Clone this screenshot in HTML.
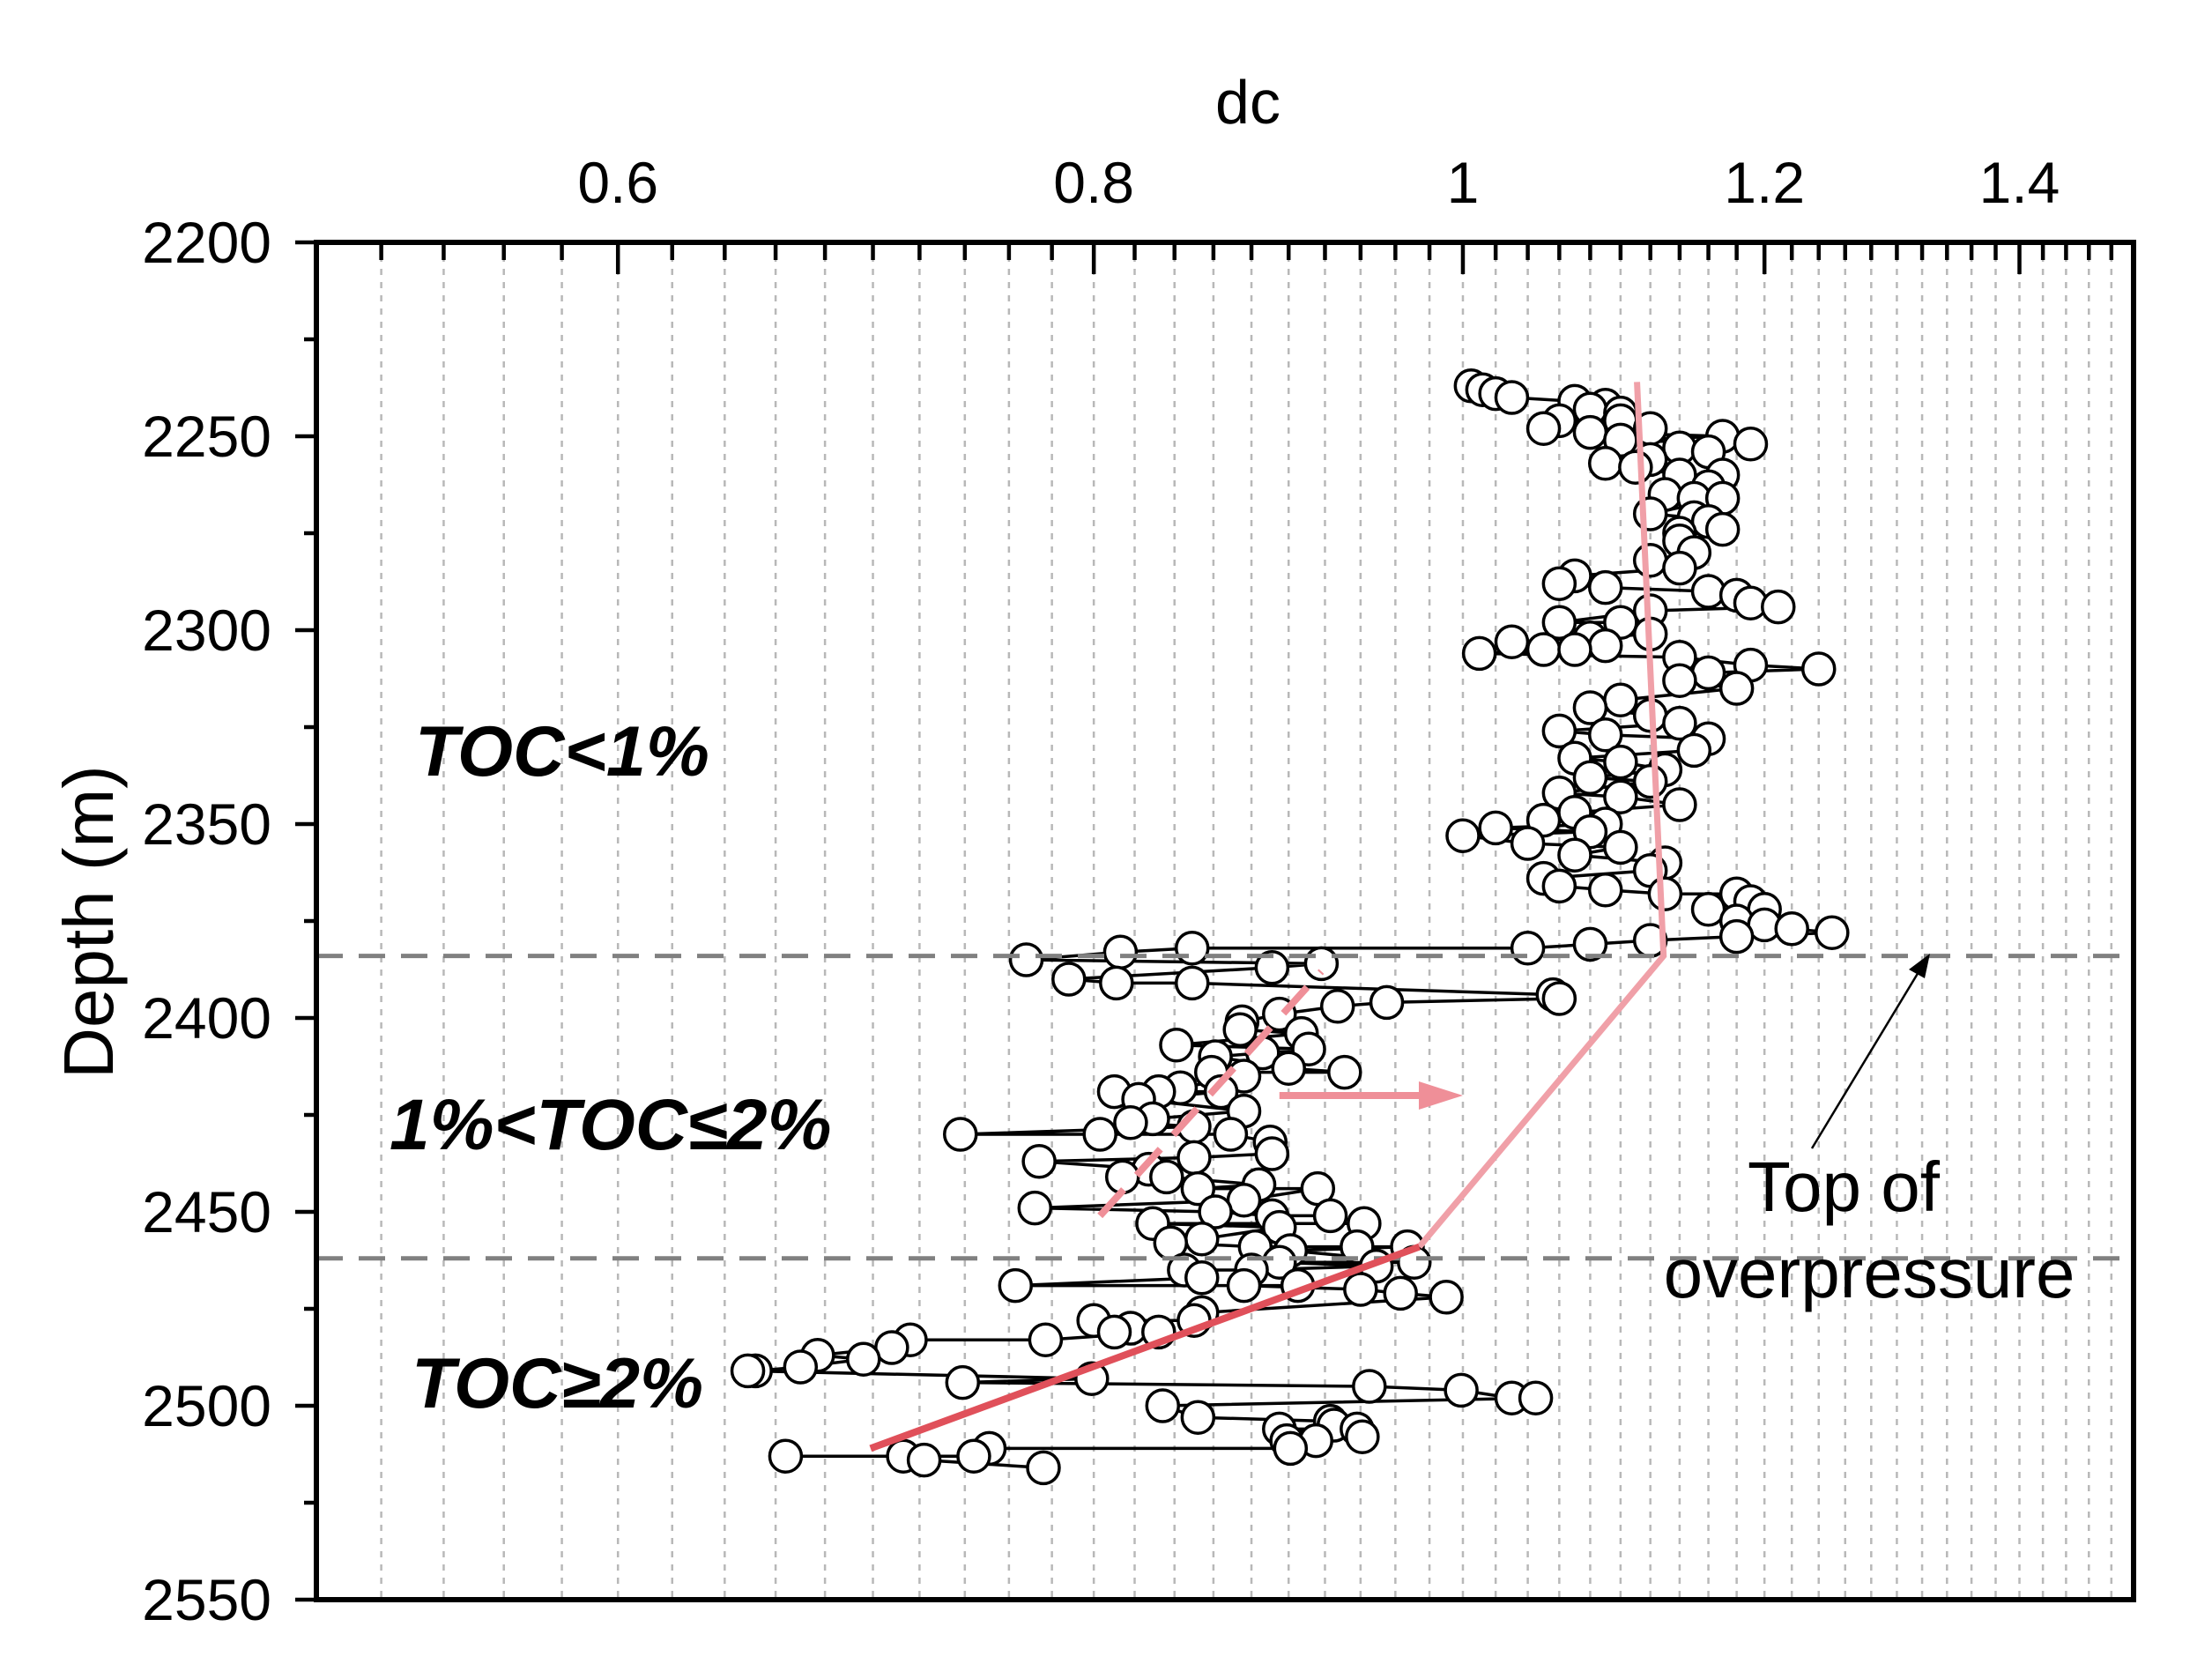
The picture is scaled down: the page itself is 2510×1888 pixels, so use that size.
<!DOCTYPE html>
<html><head><meta charset="utf-8"><style>
html,body{margin:0;padding:0;background:#fff;}
svg{display:block;font-family:"Liberation Sans",Arial,sans-serif;}
</style></head><body>
<svg id="chart" width="2510" height="1888" viewBox="0 0 2510 1888" xmlns="http://www.w3.org/2000/svg">
<g id="grid"></g>
<g id="lines"></g>
<g id="pts"></g>
<g id="trend"></g>
<g id="axes"></g>
<text x="1416" y="140" font-size="70" text-anchor="middle">dc</text>
<text transform="translate(128,1046) rotate(-90)" font-size="80" text-anchor="middle">Depth (m)</text>
<text x="471" y="880" font-size="81" font-weight="bold" font-style="italic">TOC&lt;1%</text>
<text x="442" y="1304" font-size="82" font-weight="bold" font-style="italic">1%&lt;TOC≤2%</text>
<text x="467" y="1597" font-size="81" font-weight="bold" font-style="italic">TOC≥2%</text>
<text x="2092" y="1374" font-size="80" text-anchor="middle">Top of</text>
<text x="2121" y="1472" font-size="80" text-anchor="middle">overpressure</text>
<line x1="2056" y1="1303" x2="2180" y2="1098" stroke="#000" stroke-width="2.5"/>
<polygon points="2190,1082 2166,1100 2184,1110" fill="#000"/>
</svg>
<script>
const xTicks=[0.6,0.8,1,1.2,1.4];
const xTickLabels=["0.6","0.8","1","1.2","1.4"];
const yTicks=[2200,2250,2300,2350,2400,2450,2500,2550];
const zoneDepths=[2384,2462];
const dcValues=[1.005,1.012,1.02,1.03,1.07,1.09,1.08,1.10,1.06,1.10,1.05,1.12,1.08,1.10,1.17,1.19,1.14,1.16,1.12,1.09,1.11,1.14,1.17,1.16,1.13,1.15,1.17,1.12,1.15,1.16,1.17,1.14,1.14,1.15,1.12,1.14,1.07,1.06,1.09,1.16,1.18,1.19,1.21,1.12,1.06,1.10,1.12,1.08,1.03,1.09,1.05,1.07,1.01,1.14,1.19,1.24,1.16,1.14,1.18,1.10,1.08,1.12,1.14,1.06,1.09,1.16,1.15,1.07,1.10,1.13,1.08,1.12,1.06,1.10,1.14,1.07,1.05,1.09,1.02,1.08,1.00,1.04,1.10,1.07,1.13,1.12,1.05,1.06,1.09,1.13,1.18,1.19,1.20,1.16,1.18,1.20,1.22,1.25,1.18,1.12,1.08,1.04,
0.849,0.813,0.768,0.918,0.891,0.788,0.811,0.849,1.056,1.06,0.955,0.927,0.895,0.875,0.874,0.907,0.841,0.911,0.886,0.861,0.900,0.931,0.859,0.876,0.843,0.810,0.832,0.864,0.822,0.876,0.829,0.818,0.738,0.803,0.850,0.869,0.890,0.891,0.850,0.774,0.827,0.814,0.836,0.884,0.852,0.916,0.876,0.772,0.861,0.891,0.923,0.942,0.829,0.895,
0.854,0.838,0.882,0.938,0.967,0.901,0.971,0.895,0.949,0.880,0.845,0.854,0.763,0.905,0.876,0.940,0.963,0.99,0.854,0.850,0.800,0.818,0.810,0.832,0.777,0.716,0.708,0.677,0.696,0.670,0.652,0.649,0.799,0.739,0.945,0.999,1.03,1.045,0.834,0.852,0.923,0.925,0.938,0.895,0.941,0.899,0.915,0.901,0.751,0.744,0.664,0.713,0.722,0.776];
const depthValues=[2237,2238,2239,2240,2241,2242,2243,2244,2246,2246,2248,2248,2249,2251,2250,2252,2253,2254,2256,2257,2258,2260,2260,2263,2265,2266,2266,2270,2271,2272,2274,2275,2277,2280,2282,2284,2286,2288,2289,2290,2291,2293,2294,2295,2298,2298,2301,2302,2303,2304,2305,2305,2306,2307,2309,2310,2311,2313,2315,2318,2320,2322,2324,2326,2327,2328,2331,2333,2334,2336,2338,2339,2342,2343,2345,2347,2349,2350,2351,2352,2353,2355,2356,2358,2360,2362,2364,2366,2367,2368,2368,2370,2372,2372,2375,2376,2377,2378,2379,2380,2381,2382,
2382,2383,2385,2386,2387,2390,2391,2391,2394,2395,2396,2397,2399,2401,2403,2404,2407,2408,2409,2410,2413,2414,2414,2415,2418,2419,2419,2419,2421,2424,2426,2427,2430,2430,2428,2430,2432,2435,2436,2437,2439,2441,2441,2443,2444,2444,2447,2449,2450,2451,2451,2453,2453,2454,
2457,2458,2459,2459,2459,2460,2463,2463,2464,2465,2465,2467,2469,2469,2469,2470,2471,2472,2476,2478,2478,2480,2481,2481,2483,2483,2485,2487,2488,2490,2491,2491,2493,2494,2495,2496,2498,2498,2500,2503,2504,2505,2506,2506,2508,2509,2509,2511,2511,2513,2513,2513,2514,2516];
const trendLightDc=[1.111,1.129,0.974];
const trendLightDepth=[2236,2384,2459];
const trendRedDc=[0.974,0.699];
const trendRedDepth=[2459,2511];
const trendDashDc=[0.803,0.918];
const trendDashDepth=[2451,2388];
const shiftArrowDc=[0.895,1.0];
const shiftArrowDepth=[2420,2420];

const L=359,R=2421,T=275,B=1815;
const xMin=0.5,xMax=1.5,yMin=2200,yMax=2550;
const X=v=>L+(Math.log(v)-Math.log(xMin))/(Math.log(xMax)-Math.log(xMin))*(R-L);
const Y=d=>T+(d-yMin)/(yMax-yMin)*(B-T);
const NS="http://www.w3.org/2000/svg";
function mk(parent,tag,attrs){const e=document.createElementNS(NS,tag);for(const k in attrs)e.setAttribute(k,attrs[k]);parent.appendChild(e);return e;}
const grid=document.getElementById('grid'),axes=document.getElementById('axes');
for(let i=0;i<=50;i++){const v=0.5+i*0.02;const x=X(v);
 if(i>0&&i<50){const g=mk(grid,'line',{x1:x,y1:T,x2:x,y2:B,stroke:'#b8b8b8','stroke-width':2.5,'stroke-dasharray':'7,8'});
 
 }
 const major=xTicks.some(t=>Math.abs(t-v)<1e-6);
 const t=mk(axes,'line',{x1:x,y1:T,x2:x,y2:T+(major?36:20),stroke:'#000','stroke-width':4.5});
 
 }
xTicks.forEach((v,i)=>{const tx=mk(axes,'text',{x:X(v),y:230,'font-size':66,'text-anchor':'middle'});tx.textContent=xTickLabels[i];
 
 });
for(let d=yMin;d<=yMax;d+=25){const y=Y(d);const major=d%50===0;
 const t=mk(axes,'line',{x1:L-(major?24:14),y1:y,x2:L,y2:y,stroke:'#000','stroke-width':4.5});
 
 }
yTicks.forEach(d=>{const tx=mk(axes,'text',{x:308,y:Y(d)+23,'font-size':66,'text-anchor':'end'});tx.textContent=String(d);
 
 });
const fr=mk(axes,'rect',{x:L,y:T,width:R-L,height:B-T,fill:'none',stroke:'#000','stroke-width':6});


zoneDepths.forEach(d=>{const l=mk(document.getElementById('trend'),'line',{x1:L,y1:Y(d),x2:R,y2:Y(d),stroke:'#808080','stroke-width':5,'stroke-dasharray':'30,18'});
 
 });
const idx=dcValues.map((_,i)=>i).sort((a,b)=>depthValues[a]-depthValues[b]);
const pl=mk(document.getElementById('lines'),'polyline',{points:idx.map(i=>X(dcValues[i])+','+Y(depthValues[i])).join(' '),fill:'none',stroke:'#000','stroke-width':3.5});


const pts=document.getElementById('pts');
idx.forEach(i=>{const c=mk(pts,'circle',{cx:X(dcValues[i]),cy:Y(depthValues[i]),r:18,fill:'#fff',stroke:'#000','stroke-width':3.5});
 
 });
const tr=document.getElementById('trend');
const p1=mk(tr,'polyline',{points:trendLightDc.map((v,i)=>X(v)+','+Y(trendLightDepth[i])).join(' '),fill:'none',stroke:'#f0a0a8','stroke-width':7});


const p2=mk(tr,'polyline',{points:trendRedDc.map((v,i)=>X(v)+','+Y(trendRedDepth[i])).join(' '),fill:'none',stroke:'#e0505a','stroke-width':8});


const p3=mk(tr,'polyline',{points:trendDashDc.map((v,i)=>X(v)+','+Y(trendDashDepth[i])).join(' '),fill:'none',stroke:'#ef8f98','stroke-width':8,'stroke-dasharray':'40,22'});


const ax1=X(shiftArrowDc[0]),ax2=X(shiftArrowDc[1]),ay=Y(shiftArrowDepth[0]);
const a1=mk(tr,'line',{x1:ax1,y1:ay,x2:ax2-40,y2:ay,stroke:'#ef8f98','stroke-width':8});


const a2=mk(tr,'polygon',{points:`${ax2},${ay} ${ax2-50},${ay-16} ${ax2-50},${ay+16}`,fill:'#ef8f98'});


</script>
</body></html>
